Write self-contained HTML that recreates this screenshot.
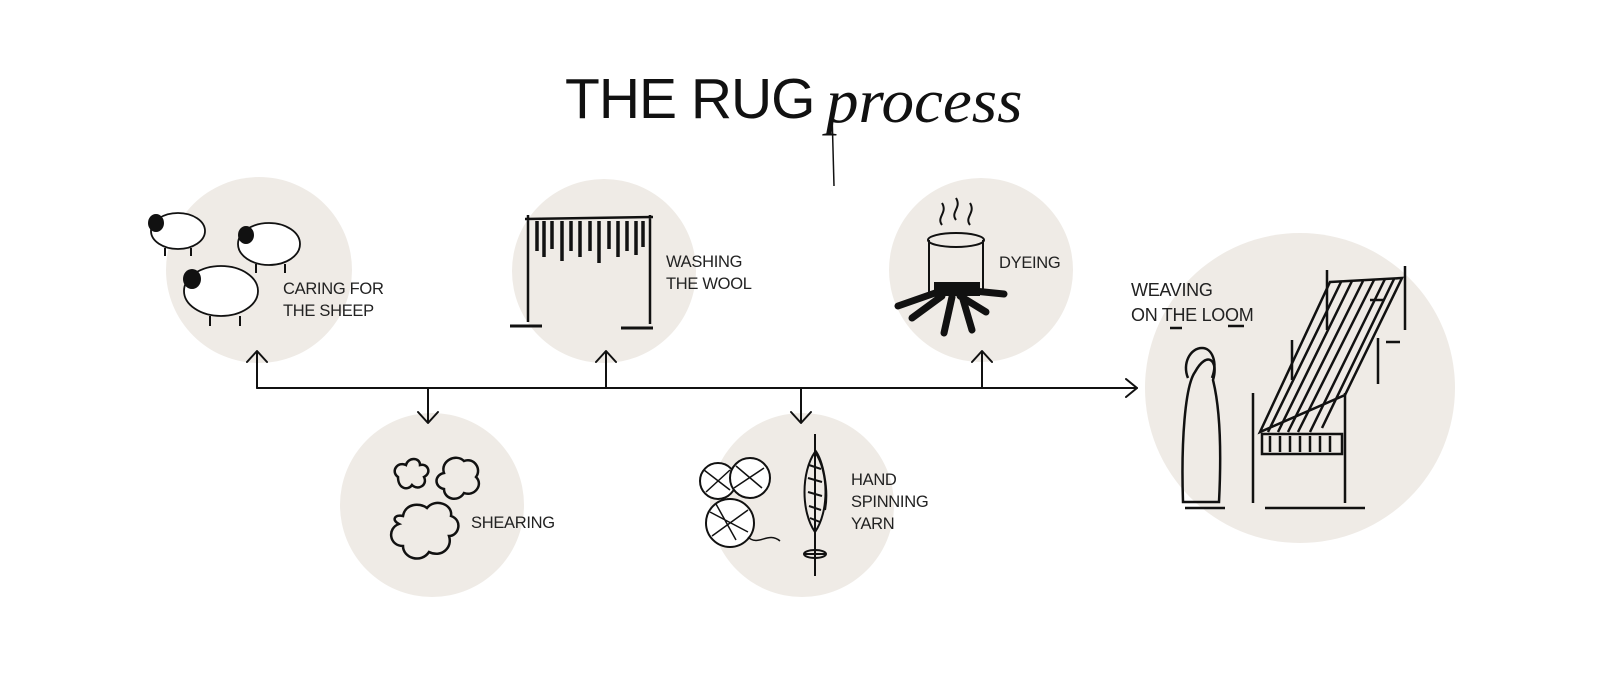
<!DOCTYPE html>
<html><head><meta charset="utf-8"><style>
html,body{margin:0;padding:0;background:#fff}
body{width:1620px;height:681px;overflow:hidden;position:relative;font-family:"Liberation Sans",sans-serif}
.t{position:absolute;font-size:16.5px;line-height:22px;color:#222;letter-spacing:-0.3px}
</style></head><body>
<svg width="1620" height="681" style="position:absolute;left:0;top:0">
<g fill="#efebe6">
<circle cx="259" cy="270" r="93"/>
<circle cx="432" cy="505" r="92"/>
<circle cx="604" cy="271" r="92"/>
<circle cx="802" cy="505" r="92"/>
<circle cx="981" cy="270" r="92"/>
<circle cx="1300" cy="388" r="155"/>
</g>
<g stroke="#111" stroke-width="2" fill="none" stroke-linecap="round" stroke-linejoin="round">
<path d="M257 388H1137"/><path d="M1126 379L1137 388L1126 397"/>
<path d="M257 388V352M247 362L257 351L267 362"/>
<path d="M606 388V352M596 362L606 351L616 362"/>
<path d="M982 388V352M972 362L982 351L992 362"/>
<path d="M428 388V422M418 412L428 423L438 412"/>
<path d="M801 388V422M791 412L801 423L811 412"/>
</g>
<!-- sheep -->
<g stroke="#111" stroke-width="1.8" fill="#fff">
<ellipse cx="178" cy="231" rx="27" ry="18"/><ellipse cx="269" cy="244" rx="31" ry="21"/><ellipse cx="221" cy="291" rx="37" ry="25"/>
</g>
<g fill="#111"><ellipse cx="156" cy="223" rx="8" ry="9"/><ellipse cx="246" cy="235" rx="8" ry="9"/><ellipse cx="192" cy="279" rx="9" ry="10"/></g>
<g stroke="#111" stroke-width="2"><path d="M165 248v8M191 248v8M256 264v9M285 264v9M210 316v10M240 316v10"/></g>
<!-- clouds -->
<g stroke="#111" stroke-width="2.5" fill="none">
<path d="M398 477c-8-6 0-16 8-12 2-8 14-8 14 0 8-2 12 8 4 12 4 8-6 14-12 8-4 6-14 4-14-8z"/>
<path d="M444 473c-4-12 12-20 20-12 10-4 18 8 12 16 8 8-2 20-12 16-6 10-20 6-20-4-10-2-10-14 0-16z"/>
<path d="M403 516c2-12 16-14 24-8 8-10 26-4 24 8 12 4 8 20-2 20 4 12-8 22-20 16-8 12-26 6-26-6-14 0-16-18-4-22-8-4-4-10 4-8z"/>
</g>
<!-- washing -->
<g stroke="#111" stroke-width="2.5" fill="none"><path d="M528 215V322M650 215V324M525 219L653 217"/></g>
<g stroke="#111" stroke-width="3.5"><path d="M537 221v30M544 221v36M552 221v28M562 221v40M571 221v30M580 221v36M590 221v30M599 221v42M609 221v28M618 221v36M627 221v30M636 221v34M643 221v26"/></g>
<g stroke="#111" stroke-width="3"><path d="M510 326h32M621 328h32"/></g>
<!-- dyeing -->
<g stroke="#111" stroke-width="2" fill="none">
<path d="M929 240v52M983 240v52"/><ellipse cx="956" cy="240" rx="28" ry="7"/>
<path d="M942 225c-6-8 6-12 0-22M956 220c-6-8 6-12 0-22M970 225c-6-8 6-12 0-22"/>
</g>
<g stroke="#111" stroke-width="7" stroke-linecap="round"><path d="M898 306l40-14M912 318l30-22M944 333l8-36M972 330l-10-34M986 312l-26-16M1004 294l-40-4"/></g>
<g fill="#111"><rect x="934" y="282" width="46" height="14"/></g>
<!-- yarn -->
<g stroke="#111" stroke-width="2" fill="#fff">
<circle cx="718" cy="481" r="18"/><circle cx="750" cy="478" r="20"/><circle cx="730" cy="523" r="24"/>
</g>
<g stroke="#111" stroke-width="1.5" fill="none">
<path d="M704 470l26 20M706 492l24-22M736 466l26 22M734 488l30-20M710 512l38 20M712 536l36-26M716 504l20 36"/>
<path d="M748 537c10 10 20-6 32 4"/>
</g>
<g stroke="#111" stroke-width="2" fill="none">
<path d="M815 434V576M804 554h22"/><ellipse cx="815" cy="554" rx="11" ry="4"/>
<path d="M815 452c-14 20-14 60 0 80c14-20 14-60 0-80z"/>
<path d="M809 465l12 4M808 478l14 4M808 492l14 4M809 506l12 4M810 518l10 4M815 450c8 10 14 40 10 60"/>
</g>
<!-- loom -->
<g stroke="#111" stroke-width="2.5" fill="none">
<path d="M1327 270v60M1405 266v64M1378 338v46M1292 340v40M1253 393v110M1345 393v110"/>
<path d="M1330 282L1402 278L1345 395L1260 432Z"/>
<path d="M1341 282L1268 432M1352 281L1278 432M1363 281L1288 432M1374 280L1298 432M1385 279L1310 432M1394 279L1322 428"/>
<path d="M1262 434h80v20h-80z"/>
<path d="M1270 436v16M1280 436v16M1290 436v16M1300 436v16M1310 436v16M1320 436v16M1330 436v16"/>
<path d="M1195 372c-10 14-14 70-12 130h36c2-40 2-90-6-122c6-20-6-30-18-8z"/>
<path d="M1188 378c-6-14 2-30 14-30c10 0 16 14 10 30"/>
<path d="M1170 328h12M1228 326h16M1370 300h14M1386 342h14M1265 508h100M1185 508h40"/>
</g>
</svg>
<div style="position:absolute;left:565px;top:68px;font-size:57px;line-height:62px;color:#111;letter-spacing:-1px">THE RUG</div>
<div style="position:absolute;left:826px;top:70px;font-family:'Liberation Serif',serif;font-style:italic;font-size:62px;line-height:64px;color:#111;letter-spacing:0px;transform:scaleX(1.05);transform-origin:left">process</div>
<svg width="20" height="80" style="position:absolute;left:826px;top:110px"><path d="M6 2L8 76" stroke="#111" stroke-width="1.5"/></svg>
<div class="t" style="left:283px;top:278px">CARING FOR<br>THE SHEEP</div>
<div class="t" style="left:471px;top:512px">SHEARING</div>
<div class="t" style="left:666px;top:251px">WASHING<br>THE WOOL</div>
<div class="t" style="left:851px;top:469px">HAND<br>SPINNING<br>YARN</div>
<div class="t" style="left:999px;top:252px">DYEING</div>
<div class="t" style="left:1131px;top:278px;font-size:18px;line-height:25px">WEAVING<br>ON THE LOOM</div>
</body></html>
